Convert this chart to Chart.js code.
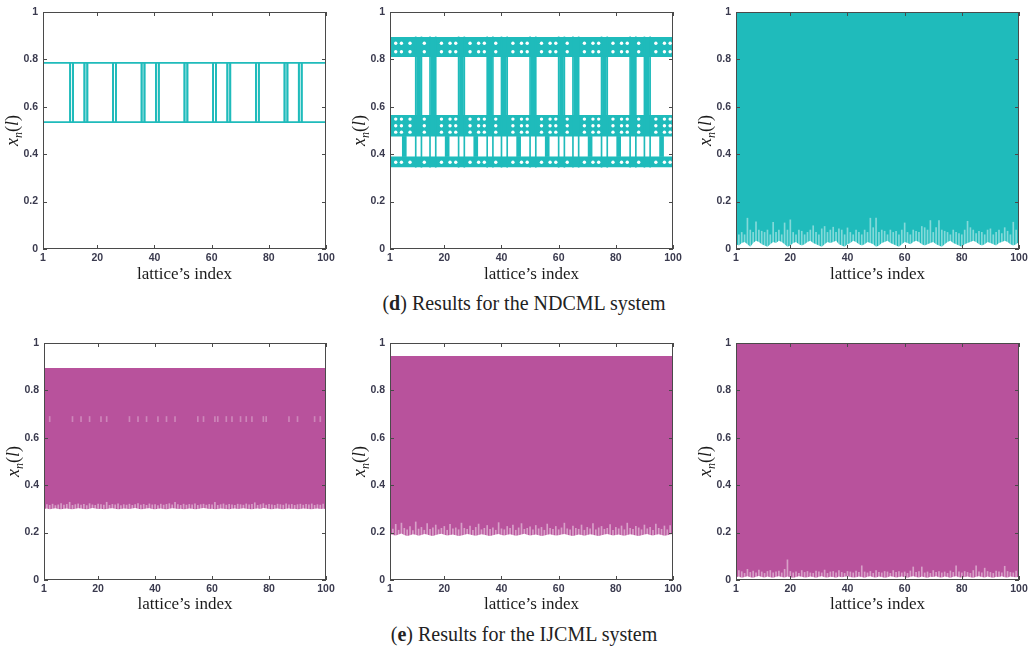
<!DOCTYPE html>
<html>
<head>
<meta charset="utf-8">
<script src="https://cdn.jsdelivr.net/npm/chart.js@4.4.1/dist/chart.umd.min.js"></script>
<style>
  html, body { margin: 0; background: #fff; }
  #page { position: relative; width: 1032px; height: 650px; overflow: hidden; }
  canvas { position: absolute; }
  .cap { position: absolute; left: 8px; width: 1032px; text-align: center;
         font: 20px/20px "Liberation Serif", serif; color: #222; }
</style>
</head>
<body>
<div id="page">
  <canvas id="d1" style="left:0;top:0" width="340" height="290"></canvas>
  <canvas id="d2" style="left:345px;top:0" width="340" height="290"></canvas>
  <canvas id="d3" style="left:690px;top:0" width="342" height="290"></canvas>
  <div class="cap" style="top:293px">(<b>d</b>) Results for the NDCML system</div>
  <canvas id="e1" style="left:0;top:330px" width="340" height="290"></canvas>
  <canvas id="e2" style="left:345px;top:330px" width="340" height="290"></canvas>
  <canvas id="e3" style="left:690px;top:330px" width="342" height="290"></canvas>
  <div class="cap" style="top:624px">(<b>e</b>) Results for the IJCML system</div>
</div>
<script>
// axes
const xTicks = [1, 20, 40, 60, 80, 100];
const yTicks = [0, 0.2, 0.4, 0.6, 0.8, 1];
const xTitle = "lattice\u2019s index";
const sites = Array.from({ length: 100 }, (_, i) => i + 1);

const cyan = "#1fbbbb";
const magenta = "#b8529c";
const slitColor = "rgba(255,255,255,0.45)";

// (d) NDCML, first panel: two levels, sites where the lattice flips
const d1Levels = [0.785, 0.535];
const d1Flip = [11, 16, 26, 36, 41, 51, 61, 66, 76, 86, 91];

// (d) second panel: bands, the sites that join them, holes inside the bands
const d2Bands = [[0.345, 0.39], [0.475, 0.565], [0.81, 0.895]];
const d2UpperLinks = [11, 16, 26, 36, 41, 51, 61, 66, 76, 86, 91];
const d2LowerLinks = [6, 21, 31, 46, 56, 71, 81, 96];
const d2Thin = [1, 10, 12, 15, 17, 25, 27, 35, 37, 40, 42, 50, 52, 60, 62, 65, 67, 75, 77, 85, 87, 90, 92, 100];
const d2HoleRows = [0.868, 0.832, 0.548, 0.52, 0.493, 0.366];
const d2HoleSites = [3, 5, 8, 13, 19, 22, 24, 29, 32, 34, 38, 44, 47, 49, 54, 57, 59, 63, 69, 72, 74, 79, 82, 84, 88, 94, 97, 99];

// (d) third panel: filled up to 1, lower edge per site and pale slits
const d3Top = 1.0;
const d3Low = [
  .020, .015, .025, .030, .020, .010, .025, .035, .030, .020,
  .015, .010, .020, .030, .025, .035, .030, .020, .010, .015,
  .025, .030, .020, .015, .020, .030, .035, .025, .020, .015,
  .010, .020, .030, .025, .030, .035, .020, .015, .010, .020,
  .025, .035, .030, .020, .015, .020, .030, .025, .020, .010,
  .015, .025, .030, .035, .025, .020, .015, .010, .020, .030,
  .025, .020, .030, .035, .030, .020, .015, .020, .025, .030,
  .020, .015, .010, .020, .030, .035, .025, .020, .015, .010,
  .020, .025, .030, .035, .030, .020, .015, .020, .030, .025,
  .020, .015, .025, .030, .035, .030, .020, .015, .020, .030];
const d3Slit = [
  .050, .060, .070, .060, .130, .080, .070, .115, .080, .075,
  .070, .080, .060, .113, .070, .080, .060, .110, .080, .123,
  .070, .060, .080, .075, .060, .070, .080, .098, .070, .060,
  .085, .095, .070, .080, .092, .070, .085, .080, .060, .089,
  .070, .060, .080, .070, .060, .080, .070, .130, .090, .130,
  .070, .080, .075, .060, .080, .070, .075, .060, .080, .110,
  .070, .060, .080, .075, .070, .095, .090, .080, .120, .070,
  .090, .120, .080, .075, .070, .060, .080, .070, .065, .060,
  .080, .117, .090, .080, .065, .075, .070, .060, .080, .085,
  .060, .070, .080, .065, .090, .075, .060, .113, .080, .060];

// (e) IJCML, first panel
const e1Top = 0.895;
const e1Low = [
  .300, .302, .299, .301, .303, .300, .298, .301, .302, .300,
  .299, .301, .303, .302, .300, .299, .301, .304, .302, .300,
  .301, .299, .300, .302, .303, .301, .299, .300, .302, .301,
  .300, .302, .304, .301, .299, .300, .302, .303, .300, .299,
  .301, .302, .300, .299, .301, .303, .302, .300, .301, .299,
  .300, .302, .301, .299, .300, .302, .304, .302, .300, .301,
  .299, .300, .302, .301, .300, .299, .301, .302, .300, .301,
  .303, .301, .300, .299, .301, .302, .300, .304, .302, .300,
  .299, .301, .302, .300, .299, .301, .302, .300, .301, .299,
  .300, .302, .301, .300, .299, .301, .302, .300, .301, .300];
const e1Slit = [
  .312, .318, .315, .320, .314, .317, .322, .316, .319, .328,
  .315, .318, .321, .316, .319, .314, .322, .317, .315, .320,
  .318, .316, .328, .315, .319, .317, .321, .314, .318, .316,
  .320, .315, .318, .322, .316, .319, .315, .321, .317, .318,
  .314, .320, .316, .319, .322, .317, .328, .318, .315, .320,
  .316, .319, .317, .321, .315, .318, .320, .316, .319, .317,
  .328, .315, .318, .321, .316, .319, .317, .315, .320, .318,
  .316, .321, .317, .319, .326, .315, .318, .322, .316, .319,
  .317, .315, .320, .318, .316, .321, .317, .319, .315, .318,
  .320, .316, .319, .317, .321, .315, .318, .316, .320, .317];
const e1Dashes = [3, 11, 14, 17, 21, 23, 31, 34, 37, 41, 44, 47, 55, 57, 61, 62, 65, 67, 70, 72, 74, 78, 79, 87, 90, 96, 98];
const e1DashRange = [0.668, 0.69];

// (e) second panel
const e2Top = 0.945;
const e2Low = [
  .195, .190, .188, .192, .196, .190, .186, .189, .193, .191,
  .187, .190, .194, .192, .188, .186, .190, .193, .195, .191,
  .188, .190, .192, .189, .186, .188, .191, .194, .192, .189,
  .187, .190, .193, .191, .188, .186, .189, .192, .194, .190,
  .188, .191, .193, .190, .187, .189, .192, .195, .191, .188,
  .190, .192, .189, .186, .188, .191, .193, .190, .188, .189,
  .192, .194, .191, .188, .186, .189, .192, .190, .187, .190,
  .193, .191, .188, .186, .189, .192, .194, .191, .188, .190,
  .192, .189, .187, .190, .193, .191, .188, .186, .189, .192,
  .194, .190, .188, .191, .193, .190, .187, .189, .192, .195];
const e2Slit = [
  .230, .215, .235, .210, .240, .218, .212, .225, .208, .245,
  .215, .222, .210, .238, .214, .220, .232, .212, .218, .226,
  .210, .235, .216, .220, .212, .240, .218, .214, .228, .210,
  .222, .236, .212, .218, .230, .214, .220, .210, .242, .216,
  .212, .226, .218, .232, .210, .220, .238, .214, .218, .224,
  .212, .230, .216, .222, .210, .236, .218, .214, .226, .212,
  .220, .240, .216, .212, .228, .218, .214, .232, .210, .222,
  .216, .238, .212, .220, .226, .214, .218, .234, .210, .222,
  .216, .228, .212, .240, .218, .214, .226, .220, .212, .232,
  .216, .222, .210, .236, .218, .214, .228, .212, .230, .220];

// (e) third panel
const e3Top = 1.0;
const e3Low = [
  .012, .015, .010, .013, .016, .012, .009, .014, .017, .013,
  .011, .015, .012, .010, .014, .016, .013, .011, .015, .012,
  .010, .013, .016, .014, .011, .012, .015, .013, .010, .014,
  .016, .012, .011, .014, .013, .010, .015, .012, .014, .016,
  .013, .011, .012, .015, .013, .010, .014, .016, .012, .011,
  .015, .013, .010, .012, .016, .014, .011, .013, .015, .012,
  .010, .014, .016, .013, .011, .015, .012, .010, .014, .013,
  .016, .012, .011, .015, .013, .010, .014, .016, .012, .011,
  .013, .015, .012, .010, .014, .016, .013, .011, .015, .012,
  .010, .014, .013, .016, .012, .011, .015, .013, .012, .014];
const e3Slit = [
  .030, .040, .035, .028, .045, .032, .038, .030, .042, .034,
  .028, .036, .040, .030, .034, .038, .030, .045, .085, .036,
  .030, .034, .028, .040, .032, .036, .030, .028, .038, .034,
  .030, .042, .028, .034, .036, .030, .040, .032, .028, .036,
  .034, .030, .038, .032, .060, .034, .030, .036, .028, .040,
  .032, .030, .036, .034, .028, .040, .032, .036, .030, .034,
  .028, .038, .055, .032, .036, .055, .030, .034, .028, .040,
  .032, .036, .030, .034, .028, .038, .032, .060, .034, .030,
  .036, .032, .028, .040, .060, .034, .030, .050, .036, .032,
  .028, .038, .034, .030, .058, .036, .032, .030, .038, .034];

const tickFont = { family: "Liberation Sans", size: 10.5, weight: "bold" };
const tickColor = "#3a3a4e";

function drawYTitle(ctx, cx, cy) {
  ctx.save();
  ctx.translate(cx, cy);
  ctx.rotate(-Math.PI / 2);
  ctx.fillStyle = "#1a1a1a";
  const big = 'italic 18px "Liberation Serif"';
  const small = 'italic 12px "Liberation Serif"';
  const up = '18px "Liberation Serif"';
  const parts = [["x", big, 0], ["n", small, 4], ["(", up, 0], ["l", big, 0], [")", up, 0]];
  let w = 0;
  parts.forEach(p => { ctx.font = p[1]; w += ctx.measureText(p[0]).width; });
  let px = -w / 2;
  parts.forEach(p => {
    ctx.font = p[1];
    ctx.fillText(p[0], px, 5 + p[2]);
    px += ctx.measureText(p[0]).width;
  });
  ctx.restore();
}

// MATLAB-like box with inward ticks plus the y title
const boxPlugin = {
  id: "box",
  afterDraw(chart) {
    const { ctx, chartArea: a, scales: { x, y } } = chart;
    ctx.save();
    ctx.strokeStyle = "#4a4a4a";
    ctx.lineWidth = 1;
    ctx.strokeRect(a.left + 0.5, a.top + 0.5, a.right - a.left - 1, a.bottom - a.top - 1);
    ctx.beginPath();
    xTicks.forEach(v => {
      const px = Math.round(x.getPixelForValue(v)) + 0.5;
      ctx.moveTo(px, a.bottom); ctx.lineTo(px, a.bottom - 4);
      ctx.moveTo(px, a.top); ctx.lineTo(px, a.top + 4);
    });
    yTicks.forEach(v => {
      const py = Math.round(y.getPixelForValue(v)) + 0.5;
      ctx.moveTo(a.left, py); ctx.lineTo(a.left + 4, py);
      ctx.moveTo(a.right, py); ctx.lineTo(a.right - 4, py);
    });
    ctx.stroke();
    ctx.restore();
    drawYTitle(ctx, a.left - 30, (a.top + a.bottom) / 2);
  }
};

function makePanel(id, datasets, g) {
  return new Chart(document.getElementById(id), {
    type: "line",
    data: { datasets },
    options: {
      responsive: false,
      animation: false,
      events: [],
      layout: { padding: { top: g.top, right: g.right, left: 0, bottom: 0 } },
      plugins: { legend: { display: false }, tooltip: { enabled: false } },
      elements: { point: { radius: 0 }, line: { tension: 0 } },
      scales: {
        x: {
          type: "linear", min: 1, max: 100, offset: false,
          afterBuildTicks: s => { s.ticks = xTicks.map(v => ({ value: v })); },
          afterFit: s => { s.height = g.xh; },
          grid: { display: false, drawTicks: false },
          border: { display: false },
          ticks: { autoSkip: false, maxRotation: 0, padding: 3, color: tickColor, font: tickFont },
          title: { display: true, text: xTitle, color: "#1a1a1a",
                   font: { family: "Liberation Serif", size: 17 }, padding: { top: 0, bottom: 5 } }
        },
        y: {
          type: "linear", min: 0, max: 1,
          afterBuildTicks: s => { s.ticks = yTicks.map(v => ({ value: v })); },
          afterFit: s => { s.width = g.yw; },
          grid: { display: false, drawTicks: false },
          border: { display: false },
          ticks: { padding: 5, color: tickColor, font: tickFont, callback: v => String(v) }
        }
      }
    },
    plugins: [boxPlugin]
  });
}

const pts = ys => ys.map((v, i) => ({ x: sites[i], y: v }));
const flat = v => [{ x: 1, y: v }, { x: 100, y: v }];
const bars = (list, lo, hi) => list.map(l => ({ x: l, y: [lo, hi] }));

function filledPanel(low, top, slit, color, extra) {
  return [
    ...(extra || []),
    { type: "bar", data: slit.map((v, i) => ({ x: sites[i], y: [0, v] })),
      backgroundColor: slitColor, barThickness: 1, grouped: false },
    { data: pts(low), borderWidth: 0, fill: false },
    { data: flat(top), borderWidth: 0, fill: "-1", backgroundColor: color }
  ];
}

const rowTop = { top: 12, xh: 41 };
const rowBot = { top: 13, xh: 40 };
const col1 = { yw: 43, right: 14 };
const col2 = { yw: 45, right: 12 };
const col3 = { yw: 46, right: 13 };

// d1: two iterations, complementary levels, switching half way between sites
const d1A = sites.map(l => d1Flip.includes(l) ? d1Levels[1] : d1Levels[0]);
const d1B = sites.map(l => d1Flip.includes(l) ? d1Levels[0] : d1Levels[1]);
makePanel("d1", [
  { data: pts(d1A), borderColor: cyan, borderWidth: 1.8, fill: false, stepped: "middle" },
  { data: pts(d1B), borderColor: cyan, borderWidth: 1.8, fill: false, stepped: "middle" }
], { ...rowTop, ...col1 });

// d2: holes on top, then joining bars, then bands
const d2Holes = [];
d2HoleRows.forEach(r => d2HoleSites.forEach(l => d2Holes.push({ x: l, y: r })));
const d2Sets = [
  { type: "scatter", data: d2Holes, pointRadius: 1.7, pointBackgroundColor: "#fff", pointBorderWidth: 0, showLine: false },
  { type: "bar", data: bars(d2UpperLinks, d2Bands[1][1], d2Bands[2][0]), backgroundColor: cyan, barThickness: 4, grouped: false },
  { type: "bar", data: bars(d2LowerLinks, d2Bands[0][1], d2Bands[1][0]), backgroundColor: cyan, barThickness: 4, grouped: false },
  { type: "bar", data: bars(d2Thin, d2Bands[0][0], d2Bands[2][1]), backgroundColor: cyan, barThickness: 1, grouped: false }
];
d2Bands.forEach(b => {
  d2Sets.push({ data: flat(b[0]), borderWidth: 0, fill: false });
  d2Sets.push({ data: flat(b[1]), borderWidth: 0, fill: "-1", backgroundColor: cyan });
});
makePanel("d2", d2Sets, { ...rowTop, ...col2 });

makePanel("d3", filledPanel(d3Low, d3Top, d3Slit, cyan), { ...rowTop, ...col3 });

makePanel("e1", filledPanel(e1Low, e1Top, e1Slit, magenta, [
  { type: "bar", data: bars(e1Dashes, e1DashRange[0], e1DashRange[1]),
    backgroundColor: "rgba(255,255,255,0.3)", barThickness: 1, grouped: false }
]), { ...rowBot, ...col1, yw: 44 });
makePanel("e2", filledPanel(e2Low, e2Top, e2Slit, magenta), { ...rowBot, ...col2 });
makePanel("e3", filledPanel(e3Low, e3Top, e3Slit, magenta), { ...rowBot, ...col3 });
</script>
</body>
</html>
